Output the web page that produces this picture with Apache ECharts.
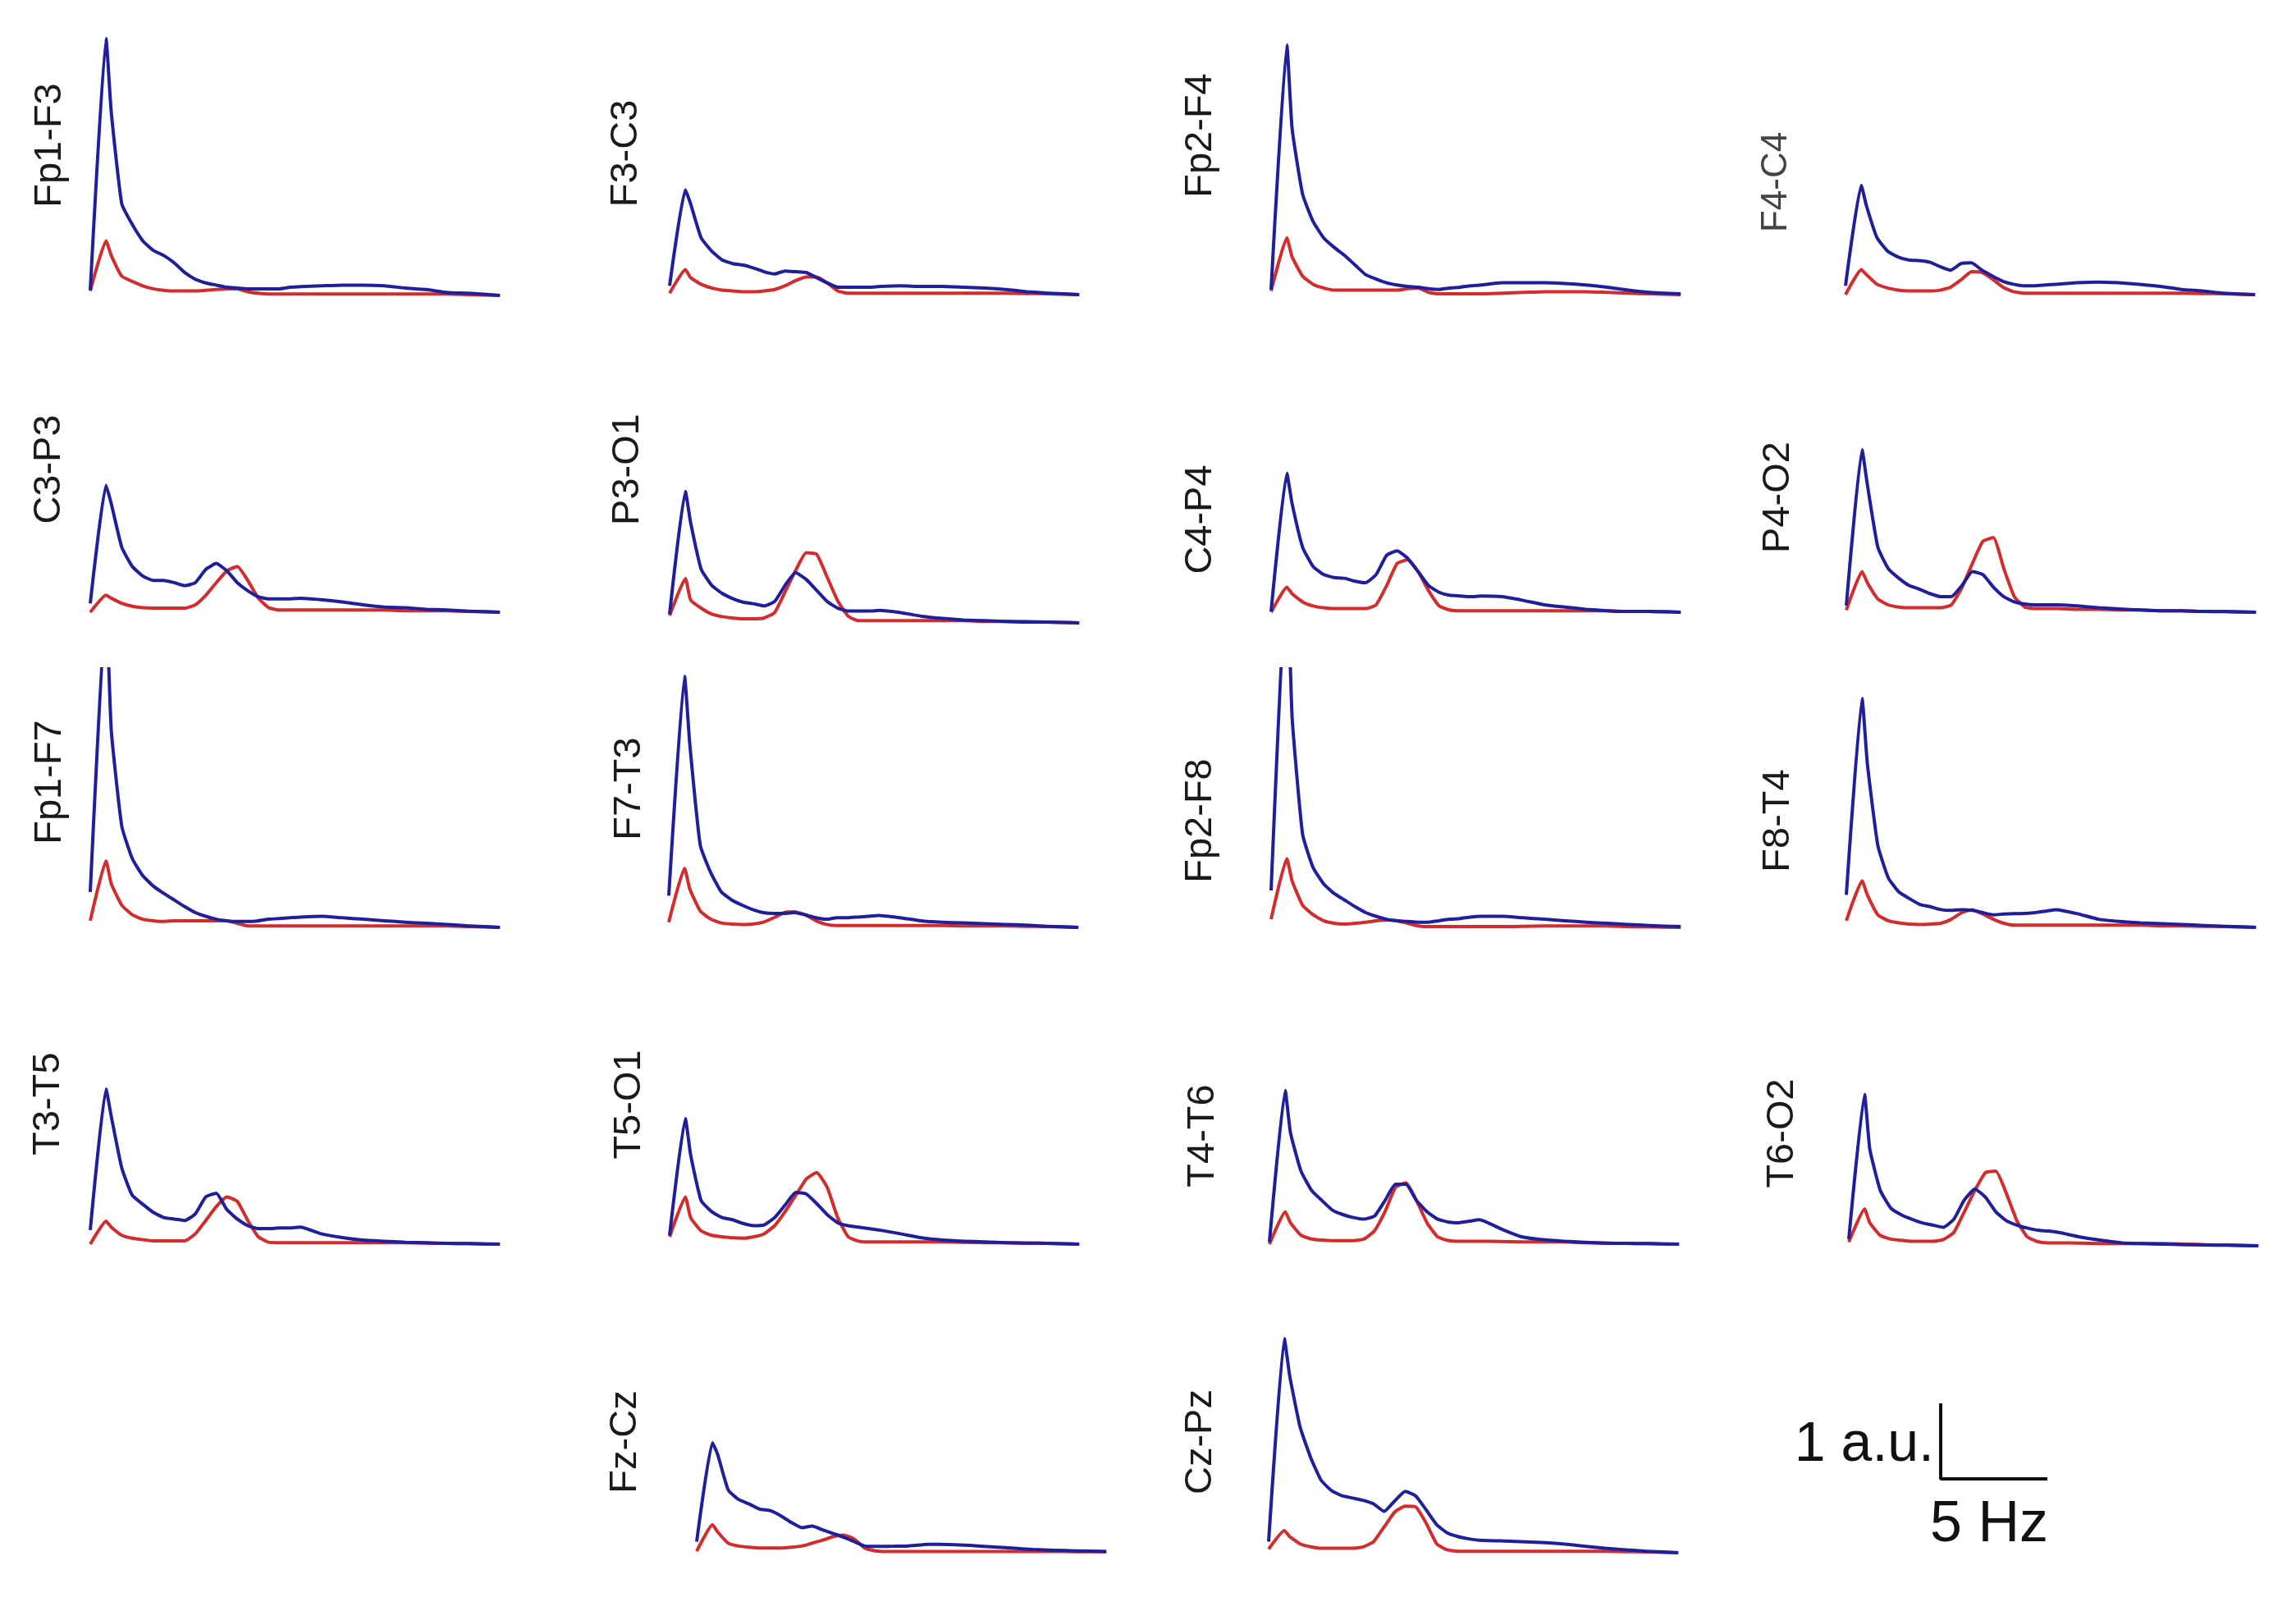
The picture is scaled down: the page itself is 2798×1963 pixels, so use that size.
<!DOCTYPE html>
<html>
<head>
<meta charset="UTF-8">
<title>EEG spectra</title>
<script src="https://cdn.jsdelivr.net/npm/echarts@6/dist/echarts.min.js"></script>
<style>
  html, body { margin: 0; padding: 0; background: #fff; }
  #main { width: 2798px; height: 1963px; }
</style>
</head>
<body>
<div id="main"></div>
<script type="text/javascript">
// frequency (Hz, counted from the first bin of each panel)
var freqHz = [0, 0.75, 1, 1.5, 2, 2.5, 3, 3.5, 4, 4.5, 5, 5.5, 6, 6.5, 7, 7.5, 8, 8.5, 9, 9.5, 10, 11, 12, 13, 14, 15, 16, 17, 18, 19.5];

// power in a.u. - blue / red traces per derivation
var fp1F3Blue = [0.07, 3.48, 2.48, 1.24, 0.96, 0.74, 0.61, 0.54, 0.44, 0.31, 0.22, 0.17, 0.14, 0.11, 0.10, 0.09, 0.09, 0.09, 0.09, 0.11, 0.12, 0.13, 0.14, 0.14, 0.13, 0.10, 0.08, 0.04, 0.03, 0.0];
var fp1F3Red = [0.06, 0.74, 0.54, 0.26, 0.19, 0.13, 0.09, 0.07, 0.06, 0.06, 0.06, 0.07, 0.08, 0.09, 0.09, 0.05, 0.03, 0.02, 0.02, 0.02, 0.02, 0.02, 0.02, 0.02, 0.02, 0.02, 0.02, 0.02, 0.01, 0.0];
var f3C3Blue = [0.12, 1.42, 1.23, 0.77, 0.59, 0.47, 0.42, 0.40, 0.36, 0.31, 0.28, 0.32, 0.31, 0.30, 0.23, 0.16, 0.10, 0.10, 0.10, 0.10, 0.11, 0.12, 0.11, 0.11, 0.10, 0.09, 0.07, 0.04, 0.02, 0.0];
var f3C3Red = [0.02, 0.34, 0.23, 0.14, 0.09, 0.06, 0.05, 0.04, 0.04, 0.05, 0.07, 0.12, 0.19, 0.24, 0.24, 0.16, 0.05, 0.02, 0.02, 0.02, 0.02, 0.02, 0.02, 0.02, 0.02, 0.02, 0.02, 0.015, 0.01, 0.0];
var fp2F4Blue = [0.07, 3.38, 2.25, 1.36, 0.99, 0.77, 0.64, 0.53, 0.40, 0.27, 0.21, 0.16, 0.13, 0.11, 0.10, 0.08, 0.07, 0.09, 0.10, 0.12, 0.13, 0.16, 0.16, 0.16, 0.15, 0.13, 0.10, 0.06, 0.03, 0.01];
var fp2F4Red = [0.05, 0.77, 0.51, 0.25, 0.14, 0.09, 0.06, 0.06, 0.06, 0.06, 0.06, 0.06, 0.06, 0.08, 0.09, 0.03, 0.01, 0.01, 0.01, 0.01, 0.01, 0.02, 0.03, 0.04, 0.04, 0.04, 0.03, 0.02, 0.01, 0.0];
var f4C4Blue = [0.12, 1.48, 1.20, 0.77, 0.59, 0.51, 0.47, 0.46, 0.44, 0.38, 0.33, 0.42, 0.43, 0.33, 0.25, 0.18, 0.14, 0.12, 0.12, 0.13, 0.14, 0.16, 0.17, 0.16, 0.14, 0.11, 0.07, 0.05, 0.02, 0.0];
var f4C4Red = [0.0, 0.34, 0.27, 0.14, 0.09, 0.06, 0.05, 0.05, 0.05, 0.06, 0.10, 0.20, 0.31, 0.30, 0.21, 0.10, 0.04, 0.02, 0.02, 0.02, 0.02, 0.02, 0.02, 0.02, 0.02, 0.02, 0.02, 0.015, 0.01, 0.0];
var c3P3Blue = [0.12, 1.72, 1.47, 0.88, 0.62, 0.49, 0.43, 0.43, 0.40, 0.36, 0.40, 0.58, 0.66, 0.56, 0.40, 0.29, 0.21, 0.18, 0.18, 0.18, 0.19, 0.17, 0.14, 0.10, 0.07, 0.06, 0.04, 0.03, 0.015, 0.0];
var c3P3Red = [0.0, 0.23, 0.19, 0.12, 0.08, 0.06, 0.055, 0.055, 0.055, 0.055, 0.10, 0.23, 0.40, 0.56, 0.62, 0.43, 0.19, 0.06, 0.03, 0.03, 0.03, 0.03, 0.03, 0.03, 0.03, 0.02, 0.02, 0.02, 0.01, 0.0];
var p3O1Blue = [0.12, 1.78, 1.36, 0.73, 0.51, 0.40, 0.33, 0.28, 0.26, 0.23, 0.29, 0.51, 0.68, 0.59, 0.44, 0.29, 0.20, 0.16, 0.16, 0.16, 0.17, 0.14, 0.09, 0.06, 0.04, 0.03, 0.02, 0.01, 0.01, 0.0];
var p3O1Red = [0.10, 0.60, 0.31, 0.20, 0.12, 0.085, 0.067, 0.056, 0.056, 0.067, 0.14, 0.42, 0.71, 0.95, 0.93, 0.62, 0.30, 0.09, 0.03, 0.03, 0.03, 0.03, 0.03, 0.03, 0.03, 0.02, 0.02, 0.02, 0.01, 0.0];
var c4P4Blue = [0.01, 1.88, 1.47, 0.88, 0.62, 0.51, 0.47, 0.46, 0.42, 0.40, 0.51, 0.77, 0.83, 0.73, 0.55, 0.36, 0.27, 0.23, 0.22, 0.21, 0.22, 0.21, 0.16, 0.10, 0.07, 0.04, 0.02, 0.01, 0.01, 0.0];
var c4P4Red = [0.0, 0.34, 0.25, 0.14, 0.085, 0.06, 0.05, 0.05, 0.05, 0.05, 0.10, 0.36, 0.66, 0.71, 0.55, 0.29, 0.085, 0.03, 0.02, 0.02, 0.02, 0.02, 0.02, 0.02, 0.02, 0.02, 0.02, 0.01, 0.01, 0.0];
var p4O2Blue = [0.09, 2.20, 1.73, 0.88, 0.59, 0.46, 0.36, 0.31, 0.25, 0.21, 0.21, 0.36, 0.55, 0.51, 0.34, 0.21, 0.14, 0.11, 0.10, 0.10, 0.10, 0.085, 0.06, 0.045, 0.03, 0.02, 0.02, 0.01, 0.007, 0.0];
var p4O2Red = [0.03, 0.55, 0.40, 0.18, 0.10, 0.07, 0.06, 0.06, 0.06, 0.06, 0.10, 0.33, 0.66, 0.96, 1.01, 0.59, 0.21, 0.07, 0.05, 0.05, 0.05, 0.04, 0.04, 0.03, 0.03, 0.02, 0.02, 0.01, 0.01, 0.0];
var fp1F7Blue = [0.48, 4.40, 2.67, 1.37, 0.93, 0.70, 0.56, 0.46, 0.37, 0.28, 0.20, 0.15, 0.11, 0.09, 0.08, 0.08, 0.09, 0.11, 0.12, 0.13, 0.14, 0.15, 0.13, 0.11, 0.09, 0.07, 0.055, 0.04, 0.02, 0.0];
var fp1F7Red = [0.09, 0.90, 0.59, 0.30, 0.17, 0.11, 0.09, 0.08, 0.09, 0.09, 0.09, 0.09, 0.09, 0.09, 0.055, 0.02, 0.02, 0.02, 0.02, 0.02, 0.02, 0.02, 0.02, 0.02, 0.02, 0.02, 0.02, 0.02, 0.01, 0.0];
var f7T3Blue = [0.43, 3.40, 2.48, 1.11, 0.74, 0.48, 0.37, 0.30, 0.24, 0.20, 0.19, 0.19, 0.20, 0.17, 0.13, 0.11, 0.13, 0.13, 0.14, 0.15, 0.16, 0.13, 0.09, 0.07, 0.06, 0.05, 0.04, 0.03, 0.015, 0.0];
var f7T3Red = [0.07, 0.80, 0.52, 0.22, 0.11, 0.06, 0.045, 0.04, 0.045, 0.07, 0.13, 0.20, 0.21, 0.17, 0.09, 0.04, 0.025, 0.025, 0.025, 0.025, 0.025, 0.025, 0.025, 0.025, 0.02, 0.02, 0.02, 0.015, 0.01, 0.0];
var fp2F8Blue = [0.50, 4.90, 2.85, 1.26, 0.81, 0.59, 0.46, 0.37, 0.28, 0.20, 0.15, 0.11, 0.09, 0.08, 0.07, 0.07, 0.09, 0.11, 0.12, 0.14, 0.15, 0.15, 0.13, 0.11, 0.09, 0.07, 0.055, 0.04, 0.025, 0.01];
var fp2F8Red = [0.11, 0.93, 0.63, 0.30, 0.17, 0.09, 0.055, 0.045, 0.055, 0.07, 0.09, 0.10, 0.09, 0.055, 0.02, 0.01, 0.01, 0.01, 0.01, 0.01, 0.01, 0.01, 0.015, 0.02, 0.02, 0.02, 0.02, 0.01, 0.007, 0.0];
var f8T4Blue = [0.44, 3.10, 2.22, 1.11, 0.67, 0.48, 0.39, 0.31, 0.28, 0.24, 0.23, 0.24, 0.23, 0.20, 0.17, 0.18, 0.185, 0.19, 0.20, 0.22, 0.24, 0.185, 0.11, 0.08, 0.06, 0.05, 0.04, 0.025, 0.015, 0.0];
var f8T4Red = [0.09, 0.63, 0.44, 0.17, 0.09, 0.06, 0.045, 0.04, 0.045, 0.055, 0.11, 0.20, 0.24, 0.18, 0.11, 0.055, 0.03, 0.03, 0.03, 0.03, 0.03, 0.03, 0.03, 0.03, 0.03, 0.02, 0.02, 0.015, 0.01, 0.0];
var t3T5Blue = [0.19, 2.10, 1.73, 1.03, 0.66, 0.54, 0.43, 0.36, 0.34, 0.32, 0.41, 0.64, 0.69, 0.47, 0.34, 0.25, 0.21, 0.21, 0.22, 0.22, 0.23, 0.14, 0.09, 0.055, 0.04, 0.026, 0.02, 0.01, 0.007, 0.0];
var t3T5Red = [0.0, 0.31, 0.23, 0.12, 0.08, 0.06, 0.045, 0.045, 0.045, 0.045, 0.14, 0.32, 0.51, 0.64, 0.58, 0.32, 0.10, 0.026, 0.02, 0.02, 0.02, 0.02, 0.02, 0.02, 0.02, 0.02, 0.015, 0.01, 0.007, 0.0];
var t5O1Blue = [0.12, 1.70, 1.21, 0.59, 0.44, 0.36, 0.33, 0.28, 0.25, 0.26, 0.36, 0.53, 0.70, 0.68, 0.55, 0.40, 0.29, 0.25, 0.23, 0.21, 0.19, 0.14, 0.085, 0.055, 0.04, 0.03, 0.02, 0.015, 0.01, 0.0];
var t5O1Red = [0.10, 0.64, 0.36, 0.18, 0.12, 0.10, 0.085, 0.08, 0.10, 0.14, 0.25, 0.44, 0.66, 0.88, 0.97, 0.77, 0.36, 0.10, 0.04, 0.03, 0.03, 0.03, 0.03, 0.03, 0.025, 0.02, 0.02, 0.015, 0.01, 0.0];
var t4T6Blue = [0.03, 2.08, 1.51, 0.99, 0.73, 0.59, 0.46, 0.40, 0.36, 0.34, 0.38, 0.59, 0.81, 0.81, 0.59, 0.44, 0.34, 0.30, 0.29, 0.31, 0.33, 0.21, 0.10, 0.06, 0.04, 0.026, 0.015, 0.01, 0.007, 0.0];
var t4T6Red = [0.0, 0.44, 0.29, 0.12, 0.07, 0.055, 0.048, 0.048, 0.048, 0.07, 0.18, 0.44, 0.77, 0.83, 0.59, 0.29, 0.10, 0.05, 0.04, 0.04, 0.04, 0.035, 0.03, 0.03, 0.03, 0.02, 0.015, 0.01, 0.007, 0.0];
var t6O2Blue = [0.09, 2.05, 1.31, 0.75, 0.51, 0.42, 0.36, 0.31, 0.28, 0.25, 0.36, 0.62, 0.77, 0.66, 0.46, 0.34, 0.28, 0.24, 0.21, 0.20, 0.18, 0.12, 0.074, 0.04, 0.03, 0.022, 0.015, 0.011, 0.007, 0.0];
var t6O2Red = [0.05, 0.50, 0.31, 0.14, 0.09, 0.074, 0.06, 0.06, 0.06, 0.085, 0.18, 0.46, 0.75, 0.99, 1.01, 0.71, 0.34, 0.12, 0.055, 0.04, 0.04, 0.035, 0.03, 0.03, 0.03, 0.03, 0.022, 0.015, 0.01, 0.0];
var fzCzBlue = [0.15, 1.49, 1.33, 0.85, 0.72, 0.66, 0.59, 0.57, 0.50, 0.41, 0.34, 0.36, 0.31, 0.26, 0.21, 0.15, 0.09, 0.085, 0.085, 0.09, 0.09, 0.115, 0.11, 0.10, 0.08, 0.063, 0.044, 0.033, 0.026, 0.018];
var fzCzRed = [0.02, 0.38, 0.28, 0.13, 0.09, 0.074, 0.063, 0.063, 0.063, 0.074, 0.09, 0.13, 0.17, 0.22, 0.24, 0.185, 0.063, 0.026, 0.018, 0.018, 0.018, 0.018, 0.018, 0.018, 0.018, 0.018, 0.018, 0.018, 0.015, 0.015];
var czPzBlue = [0.15, 2.90, 2.40, 1.70, 1.29, 0.98, 0.84, 0.77, 0.74, 0.71, 0.66, 0.56, 0.70, 0.83, 0.77, 0.58, 0.38, 0.27, 0.22, 0.19, 0.17, 0.16, 0.15, 0.14, 0.12, 0.09, 0.06, 0.04, 0.02, 0.0];
var czPzRed = [0.05, 0.30, 0.22, 0.12, 0.08, 0.06, 0.06, 0.06, 0.06, 0.08, 0.15, 0.35, 0.55, 0.63, 0.62, 0.40, 0.12, 0.04, 0.02, 0.02, 0.02, 0.02, 0.02, 0.02, 0.02, 0.02, 0.02, 0.015, 0.01, 0.0];

var panels = [
    {name: 'Fp1-F3', blue: fp1F3Blue, red: fp1F3Red},
    {name: 'F3-C3', blue: f3C3Blue, red: f3C3Red},
    {name: 'Fp2-F4', blue: fp2F4Blue, red: fp2F4Red},
    {name: 'F4-C4', blue: f4C4Blue, red: f4C4Red},
    {name: 'C3-P3', blue: c3P3Blue, red: c3P3Red},
    {name: 'P3-O1', blue: p3O1Blue, red: p3O1Red},
    {name: 'C4-P4', blue: c4P4Blue, red: c4P4Red},
    {name: 'P4-O2', blue: p4O2Blue, red: p4O2Red},
    {name: 'Fp1-F7', blue: fp1F7Blue, red: fp1F7Red},
    {name: 'F7-T3', blue: f7T3Blue, red: f7T3Red},
    {name: 'Fp2-F8', blue: fp2F8Blue, red: fp2F8Red},
    {name: 'F8-T4', blue: f8T4Blue, red: f8T4Red},
    {name: 'T3-T5', blue: t3T5Blue, red: t3T5Red},
    {name: 'T5-O1', blue: t5O1Blue, red: t5O1Red},
    {name: 'T4-T6', blue: t4T6Blue, red: t4T6Red},
    {name: 'T6-O2', blue: t6O2Blue, red: t6O2Red},
    {name: 'Fz-Cz', blue: fzCzBlue, red: fzCzRed},
    {name: 'Cz-Pz', blue: czPzBlue, red: czPzRed}
];

// scale bar: 1 a.u. by 5 Hz
var scaleBarAu = [1, 0, 0];
var scaleBarHz = [0, 0, 5];

// where each panel sits (left edge, baseline, label centre)
var panelLayout = [
    {x: 110, base: 360, lx: 61, ly: 177},
    {x: 816, base: 359, lx: 763, ly: 187},
    {x: 1549, base: 359, lx: 1463, ly: 165},
    {x: 2249, base: 359, lx: 2165, ly: 222, small: true},
    {x: 110, base: 746, lx: 60, ly: 572},
    {x: 816, base: 759, lx: 765, ly: 572},
    {x: 1549, base: 746, lx: 1463, ly: 633},
    {x: 2250, base: 746, lx: 2167, ly: 606},
    {x: 110, base: 1130, lx: 61, ly: 953},
    {x: 815, base: 1130, lx: 767, ly: 961},
    {x: 1549, base: 1130, lx: 1463, ly: 1000},
    {x: 2250, base: 1130, lx: 2167, ly: 1000},
    {x: 110, base: 1516, lx: 59, ly: 1345},
    {x: 816, base: 1516, lx: 767, ly: 1346},
    {x: 1547, base: 1516, lx: 1466, ly: 1384},
    {x: 2253, base: 1518, lx: 2172, ly: 1381},
    {x: 849, base: 1892, lx: 762, ly: 1757},
    {x: 1546, base: 1892, lx: 1463, ly: 1757}
];

var PX_PER_HZ = 25.6;
var PX_PER_AU = 90;
var F_MAX = 19.5;
var Y_MAX = 3.5;
var FONT = '"Liberation Sans", Arial, sans-serif';

var option = {
    animation: false,
    backgroundColor: '#ffffff',
    grid: [], xAxis: [], yAxis: [], series: [], graphic: []
};

panels.forEach(function (p, i) {
    var lay = panelLayout[i];
    option.grid.push({
        left: lay.x, top: lay.base - Y_MAX * PX_PER_AU,
        width: F_MAX * PX_PER_HZ, height: Y_MAX * PX_PER_AU
    });
    option.xAxis.push({type: 'value', gridIndex: i, min: 0, max: F_MAX, show: false});
    option.yAxis.push({type: 'value', gridIndex: i, min: 0, max: Y_MAX, show: false});
    [['#d42c2c', p.red], ['#1f1f9c', p.blue]].forEach(function (s) {
        option.series.push({
            type: 'line', xAxisIndex: i, yAxisIndex: i,
            data: freqHz.map(function (f, k) { return [f, s[1][k]]; }),
            showSymbol: false, clip: true, silent: true,
            smooth: 0.15,
            lineStyle: {color: s[0], width: 4, join: 'round'}
        });
    });
    option.graphic.push({
        type: 'text', x: lay.lx, y: lay.ly, rotation: Math.PI / 2,
        style: {
            text: p.name, fill: lay.small ? '#444' : '#1a1a1a',
            font: (lay.small ? 44 : 47) + 'px ' + FONT,
            align: 'center', verticalAlign: 'middle'
        }
    });
});

// scale bar drawn through its own axes at the same px-per-unit
var sb = panels.length;
option.grid.push({left: 2365, top: 1802 - PX_PER_AU, width: 5 * PX_PER_HZ, height: PX_PER_AU});
option.xAxis.push({type: 'value', gridIndex: sb, min: 0, max: 5, show: false});
option.yAxis.push({type: 'value', gridIndex: sb, min: 0, max: 1, show: false});
option.series.push({
    type: 'line', xAxisIndex: sb, yAxisIndex: sb, clip: false, silent: true,
    data: scaleBarHz.map(function (f, k) { return [f, scaleBarAu[k]]; }),
    showSymbol: false, lineStyle: {color: '#111', width: 4, cap: 'square'}
});
option.graphic.push({
    type: 'text', x: 2357, y: 1761,
    style: {text: '1 a.u.', fill: '#111', font: '68px ' + FONT, align: 'right', verticalAlign: 'middle'}
});
option.graphic.push({
    type: 'text', x: 2352, y: 1859,
    style: {text: '5 Hz', fill: '#111', font: '70px ' + FONT, align: 'left', verticalAlign: 'middle'}
});

echarts.init(document.getElementById('main')).setOption(option);
</script>
</body>
</html>
